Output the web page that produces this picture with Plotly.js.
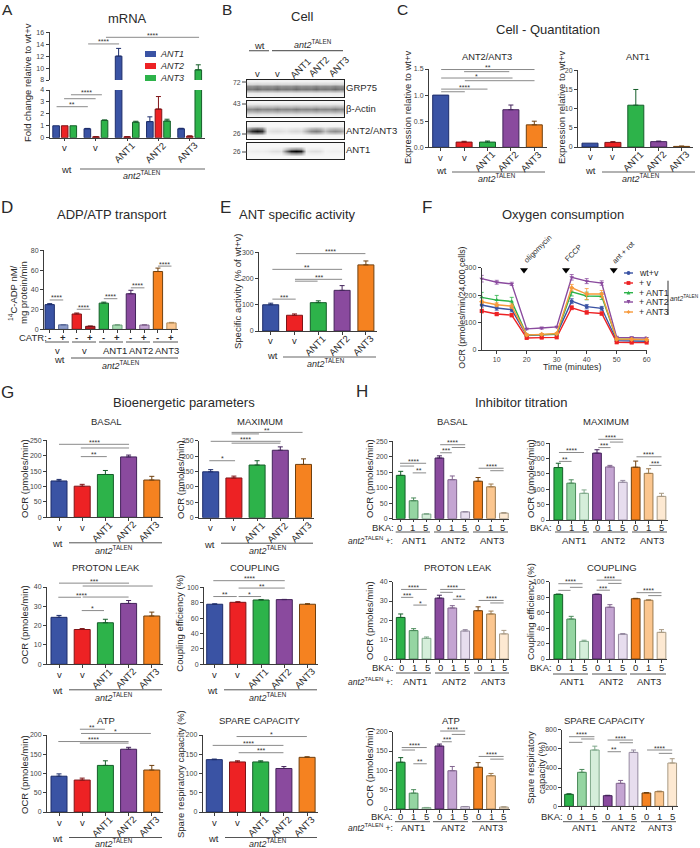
<!DOCTYPE html>
<html><head><meta charset="utf-8">
<script src="https://cdn.plot.ly/plotly-3.0.1.min.js"></script>
<style>html,body{margin:0;padding:0;background:#fff}</style></head>
<body><div id="chart" style="width:700px;height:848px"></div>
<script>
// ---------- DATA ----------
const aGroups=['v','v','ANT1','ANT2','ANT3'];
const aAnt1=[1,.75,12,1.35,.75], aAnt1Err=[0,.03,1.3,.4,.04];
const aAnt2=[1,.07,.07,2.4,.12], aAnt2Err=[0,.02,.02,1.05,.03];
const aAnt3=[1,1.45,1.3,1.4,9.7], aAnt3Err=[0,.04,.08,.15,.85];
const aSigLow=[[-.26,.74,2.6,'**'],[-.02,.99,3.27,''],[.2,1.19,3.6,'****']];
const aSigHigh=[[.75,1.74,14.05,'****'],[1.32,4.3,15.16,'****']];
const lanes=['v','v','ANT1','ANT2','ANT3'];
const grp75=[.55,.55,.55,.55,.55], actin=[.48,.48,.48,.48,.48], ant23=[.9,.1,.12,.48,.42], ant1Blot=[.04,.1,1,.1,.03];
const grpRows=[.05,.25,.8,1,.5,.1,.03], actinRows=[.03,.15,.6,1,.7,.2,.05], ant23Rows=[0,.05,.5,1,.55,.05,0], ant1Rows=[0,0,.4,1,.45,0,0];
const c1Vals=[1,.1,.1,.72,.43], c1Err=[0,.015,.02,.09,.07];
const c1Sig=[[.02,4.01,1.49,'**'],[1,2.93,1.449,''],[.02,3.07,1.327,'*'],[1.03,4.01,1.276,''],[.02,2,1.115,'****'],[.02,1.03,1.064,'']];
const c2Vals=[1,1.2,10.9,1.4,.15], c2Err=[0,.2,4.1,.15,.1];
const dVals=[25,4.5,15.5,3,26.5,4.3,36,4.3,58.5,6.5], dErr=[1,.2,1,.3,1,.3,3.5,.3,3.5,.5];
const dSign=['-','+','-','+','-','+','-','+','-','+'];
const dSig=[[0,1,29.7,'****'],[2,3,20.3,'****'],[4,5,31,'****'],[6,7,42,'****'],[8,9,64,'****']];
const eVals=[100,60,108,155,252], eErr=[6,5,7,18,15];
const eSig=[[.07,1.05,121.5,'***'],[1.02,1.97,190,''],[1.02,3,197,'***'],[.07,3,235,'**'],[1.06,3.98,295,'****']];
const fTime=[5,10,15,20,25,30,35,40,45,50,55,60];
const fWt=[164,153,147,53,55,57,178,158,152,34,33,32], fWtErr=[8,8,8,3,3,3,9,8,7,3,3,3];
const fV=[142,131,127,44,45,46,154,137,133,28,27,27], fVErr=[7,6,6,3,3,3,7,6,6,3,3,3];
const fAnt1=[192,182,177,55,56,58,212,197,196,40,39,38], fAnt1Err=[18,17,15,3,3,3,15,14,12,3,3,3];
const fAnt2=[260,247,241,77,80,84,265,251,244,46,45,44], fAnt2Err=[12,7,6,3,4,3,10,9,8,4,4,4];
const fAnt3=[176,165,160,55,57,60,227,204,204,40,39,38], fAnt3Err=[6,7,8,3,3,3,12,20,13,3,3,3];
const fArrowTime=[19.1,33.1,49], fArrowOcr=[292,292,292], fArrowText=['oligomycin','FCCP','ant + rot'];
const fLegend=['wt+v','+ v','+ ANT1','+ ANT2','+ ANT3'];
const gBasal=[118,101,139,196,121], gBasalErr=[5,6,13,6,12];
const gBasalSig=[[0,3.02,237,'****'],[.94,3.02,225,''],[.94,2.06,197,'**']];
const gMax=[149,129,171,219,173], gMaxErr=[7,6,14,11,18];
const gMaxSig=[[-.06,1.05,185,'*'],[.9,3,242,''],[0,3.02,248,'****'],[.9,2.08,272,''],[.9,3.96,277,'**']];
const gLeak=[24.3,18,21.5,31.5,25], gLeakErr=[1,.5,1.8,1.5,2];
const gLeakSig=[[0,3.02,42,'***'],[1.02,4.04,40.5,''],[-.03,.95,34.7,'****',.98],[1.02,3,34.8,''],[.98,1.94,27.8,'*']];
const gCoup=[78,80.5,83.5,84,78], gCoupErr=[.5,.8,.7,.3,.7];
const gCoupSig=[[-.06,3.02,108.6,'****'],[1.03,3.02,99,'**'],[-.06,.95,88,'**'],[1.03,2,88,'*']];
const gAtp=[93,83,121,163,109], gAtpErr=[6,5,12,5,12];
const gAtpSig=[[.9,1.98,215,'**'],[.95,3.96,204,'*'],[-.03,3,183,'****'],[.9,3,179,'']];
const gSpare=[136,130,130,113,142], gSpareErr=[1.5,3,3,5,1.5];
const gSpareSig=[[.96,3.99,196,'*'],[-.07,2.98,173,'****'],[1.05,2.98,154,'***']];
const bka=['0','1','5','0','1','5','0','1','5'], bkaGroups=['ANT1','ANT2','ANT3'];
const hBasal=[140,58,15,196,126,22,121,103,18], hBasalErr=[13,9,1,7,12,1,12,9,2];
const hBasalSig=[[-.05,1.97,179,'****'],[-.05,1.04,170,''],[.93,1.97,148,'**'],[3.06,5,239,'****'],[3.96,5,230,''],[3.06,3.96,213,'***'],[6.04,7.98,163,'****'],[6.94,7.98,155,'']];
const hMax=[171,120,87,218,173,123,172,152,77], hMaxErr=[14,11,11,11,5,6,20,15,10];
const hMaxSig=[[.05,1.99,220,'****'],[.05,1.03,191,'**'],[3.1,5.03,263,'****'],[4,5.03,254,''],[3.1,4.05,236,'***'],[6.06,8,206,'****'],[7.05,8,178,'***']];
const hLeak=[21.5,14.7,10.7,31.5,26.4,14.5,25,23.3,13], hLeakErr=[1.8,1,.7,1.5,1.2,.7,2,1.5,1.8];
const hLeakSig=[[.03,2.02,36,'****'],[.03,.98,31.9,'***'],[.98,2.02,27.9,'*'],[3.06,5,36,'****'],[3.06,4.04,34.5,''],[4.04,5,30.9,'**'],[6.04,7.98,30.3,'****'],[6.94,7.98,29,'']];
const hCoup=[83.5,51.7,22.8,83.6,67,32,78,76,34.5], hCoupErr=[.5,3.5,1.5,.3,3.3,1,.5,.5,3.5];
const hCoupSig=[[0,1.88,97.4,'****'],[0,.95,88.8,''],[.9,1.88,92.7,''],[2.97,4.9,102,'****'],[3.87,4.9,97.8,''],[2.97,4,89,'***'],[6.06,8,85.8,'****'],[6.97,8,82,'']];
const hAtp=[121,41,3.5,163,99,6,108,86,5], hAtpErr=[12,9,.5,5,11,.5,12,6,.8];
const hAtpSig=[[.08,2.02,159,'****'],[.08,1.11,152.6,''],[.98,2.02,117,'**'],[3.06,5,201.7,'****'],[3.96,5,193,''],[3.19,3.96,174,'***'],[6.04,7.98,136,'****'],[6.94,7.98,129,'']];
const hSpare=[125,355,588,111,240,563,139,153,452], hSpareErr=[6,30,40,4,30,25,5,5,45];
const hSpareSig=[[0,1.97,727,'****'],[.94,1.97,703,''],[0,1.04,668,''],[2.99,4.96,692,'****'],[3.92,4.96,664,''],[2.99,4.03,570,'**'],[6.05,8,588,'****'],[6.96,8,553,'']];
const t250=[0,50,100,150,200,250], t40=[0,10,20,30,40], t100=[0,20,40,60,80,100], t200=[0,50,100,150,200];

// ---------- STYLE ----------
const BLUE='#3A53A4',RED='#ED2224',GREEN='#2DB34A',PURPLE='#8A4A9E',ORANGE='#F58220';
const five=[BLUE,RED,GREEN,PURPLE,ORANGE], fiveL=['#1d2d6b','#7f1417','#155e2a','#43235a','#70400f'];
const nine=[GREEN,'#95D5A2','#D5EEDA',PURPLE,'#C4A5D2','#E7DDEE',ORANGE,'#FBC68F','#FDE9D2'];
const nineL=['#155e2a','#4a8a5a','#7fa88a','#43235a','#82658f','#958aa0','#70400f','#9c7a4e','#a89a84'];
const FONT='"Liberation Sans", Arial, sans-serif', INK='#2a2a2a', AX='#3c3c3c', SIG='#8a8a8a';
const TALEN='<i>ant2</i><sup>TALEN</sup>';
const W=700,H=848, X=p=>p/W, Y=p=>1-p/H;
const layout={width:W,height:H,margin:{l:0,r:0,t:0,b:0},barmode:'overlay',showlegend:false,hovermode:false,
  paper_bgcolor:'#fff',plot_bgcolor:'rgba(0,0,0,0)',font:{family:FONT,color:INK},annotations:[],shapes:[]};
const traces=[]; let n=0;

function text(px,py,s,size,o={}){layout.annotations.push(Object.assign({xref:'paper',yref:'paper',x:X(px),y:Y(py),text:s,showarrow:false,
  font:{size,family:FONT,color:o.color||INK},xanchor:o.a||'center',yanchor:'middle',textangle:o.angle||0,borderpad:0,borderwidth:0},o.extra||{}));}
function hline(x0,x1,y,c='#555',w=1){layout.shapes.push({type:'line',xref:'paper',yref:'paper',x0:X(x0),x1:X(x1),y0:Y(y),y1:Y(y),line:{color:c,width:w}});}
function vline(x,y0,y1,c='#333',w=1){layout.shapes.push({type:'line',xref:'paper',yref:'paper',x0:X(x),x1:X(x),y0:Y(y0),y1:Y(y1),line:{color:c,width:w}});}
function axes(x0,x1,top,base,xr,yr,tickvals,ticktext,xticks,xextra={},yextra={}){
  n++; const s=n===1?'':String(n);
  layout['xaxis'+s]=Object.assign({domain:[X(x0),X(x1)],range:xr,anchor:'y'+s,showgrid:false,zeroline:false,showline:true,linecolor:AX,linewidth:1,
    ticks:xticks?'outside':'',ticklen:2.5,tickwidth:1,tickcolor:AX,tickvals:xticks||[],showticklabels:false,fixedrange:true},xextra);
  layout['yaxis'+s]=Object.assign({domain:[Y(base),Y(top)],range:yr,anchor:'x'+s,showgrid:false,zeroline:false,showline:true,linecolor:AX,linewidth:1,
    ticks:'outside',ticklen:3,tickwidth:1,tickcolor:AX,tickvals,ticktext:ticktext||tickvals.map(String),tickfont:{size:7,color:'#444',family:FONT},fixedrange:true},yextra);
  return s;
}
function bar(s,x,v,e,c,l,w){traces.push({type:'bar',x:[x],y:[v],width:[w],xaxis:'x'+s,yaxis:'y'+s,marker:{color:c,line:{color:l,width:1}},
  error_y:{type:'data',symmetric:false,array:[e],arrayminus:[0],visible:e>0,color:l,thickness:1,width:2.5}});}
function sig(s,t,list){list.forEach(r=>{
  traces.push({type:'scatter',mode:'lines',x:[r[0],r[1]],y:[r[2],r[2]],xaxis:'x'+s,yaxis:'y'+t,cliponaxis:false,line:{color:SIG,width:1}});
  if(r[3]) layout.annotations.push({xref:'x'+s,yref:'y'+t,x:r[4]!==undefined?r[4]:(r[0]+r[1])/2,y:r[2],text:r[3],showarrow:false,yanchor:'middle',yshift:2,borderpad:0,font:{size:7,family:FONT,color:'#333'}});
});}
// Hidden y axis with the same scale as the panel but a taller domain, so brackets above the last tick are kept.
function sigAxis(s,top,base,ymax,extra=30){
  n++; const t=String(n);
  layout['yaxis'+t]={domain:[Y(base),Y(top-extra)],range:[0,ymax*(base-top+extra)/(base-top)],anchor:'x'+s,visible:false,fixedrange:true};
  return t;
}
function barPanel(p){
  const xr=[(p.x0-p.c0)/p.dx,(p.x1-p.c0)/p.dx];
  const idx=p.vals.map((_,i)=>i);
  const s=axes(p.x0,p.x1,p.top,p.base,xr,[0,p.ymax],p.ticks,p.tickText,idx);
  p.vals.forEach((v,i)=>bar(s,i,v,p.errs[i],p.colors[i],p.lines[i],p.bw/p.dx));
  if(p.sig) sig(s,sigAxis(s,p.top,p.base,p.ymax),p.sig);
  return s;
}
function catLabels(s,labels,base){labels.forEach((t,i)=>{const up=t==='v';
  layout.annotations.push({xref:'x'+s,yref:'paper',x:i,y:Y(base+(up?10:14.5)),xshift:up?0:-3,text:t,showarrow:false,textangle:up?0:-45,yanchor:'middle',borderpad:0,font:{size:9.5,family:FONT,color:INK}});});}
function wtRow(base,wtx,l0,l1,antx,off=0){text(wtx,base+26.5+off,'wt',9.5);hline(l0,l1,base+25.5+off);text(antx,Math.min(base+32.5+off,842.5),TALEN,9);}
function bkaRow(s,rightX,bkaX,y,lines,lineY,groupX,groupY,dxLab,talenLabel){
  text(bkaX,y,'BKA:',9.5);
  bka.forEach((t,i)=>layout.annotations.push({xref:'x'+s,yref:'paper',x:i,y:Y(y),xshift:dxLab,text:t,showarrow:false,yanchor:'middle',borderpad:0,font:{size:9.5,family:FONT,color:INK}}));
  lines.forEach(l=>hline(l[0],l[1],lineY));
  bkaGroups.forEach((t,i)=>text(groupX[i],groupY,t,9.5));
  if(talenLabel) text(rightX,groupY,TALEN+' +:',8.5,{a:'right'});
}
function ylabel(x,y,t,size=9.5){text(x,y,t,size,{angle:-90});}
function glyph(kind,cx,cy,r,col){
  const P=(a,b)=>X(cx+a)+' '+Y(cy+b);
  if(kind==='circle'||kind==='square'){layout.shapes.push({type:kind==='circle'?'circle':'rect',xref:'paper',yref:'paper',x0:X(cx-r),x1:X(cx+r),y0:Y(cy-r),y1:Y(cy+r),fillcolor:col,line:{width:0}});return;}
  const pts=kind==='triangle-up'?[[-r,r],[r,r],[0,-r]]:kind==='triangle-down'?[[-r,-r],[r,-r],[0,r]]:[[-r,0],[0,-r],[r,0],[0,r]];
  layout.shapes.push({type:'path',xref:'paper',yref:'paper',path:'M '+pts.map(p=>P(p[0],p[1])).join(' L ')+' Z',fillcolor:col,line:{width:0}});
}

// ---------- TITLES / LETTERS ----------
[['A',7,9.5],['B',227,9.5],['C',402,9.5],['D',7,208],['E',225,208],['F',427,208],['G',7,392],['H',362,391]].forEach(r=>text(r[1],r[2],r[0],r[2]<20?15.5:17));
[['mRNA',127,18],['Cell',302,17],['Cell - Quantitation',548,30],['ADP/ATP transport',112,214],['ANT specific activity',297,214],['Oxygen consumption',563,214],['Bioenergetic parameters',184,402],['Inhibitor titration',521,402]].forEach(r=>text(r[1],r[2],r[0],13));

// ---------- A ----------
{const x0=49.5,x1=205,c0=64.7,dx=31.25,xr=[(x0-c0)/dx,(x1-c0)/dx],w=6.6/dx,off=[-.275,0,.275];
 const lo=axes(x0,x1,90,137.7,xr,[0,4],[0,1,2,3,4],null,[0,1,2,3,4]);
 const hi=axes(x0,x1,32.3,80,xr,[8,16],[8,10,12,14,16],null,null,{showline:false,visible:false});
 [[aAnt1,aAnt1Err,BLUE,'#1d2d6b'],[aAnt2,aAnt2Err,RED,'#7f1417'],[aAnt3,aAnt3Err,GREEN,'#155e2a']].forEach((d,k)=>{
   d[0].forEach((v,i)=>{bar(lo,i+off[k],v,v<4?d[1][i]:0,d[2],d[3],w); if(v>8) bar(hi,i+off[k],v,d[1][i],d[2],d[3],w);});
 });
 sig(lo,lo,aSigLow); sig(hi,hi,aSigHigh);
 catLabels(lo,aGroups,137.7);
 ylabel(28,83,'Fold change relative to wt+v');
 text(66,169,'wt',9.5); hline(80,205,169,'#666',1.2); text(142,175.5,TALEN,9);
 [['ANT1',BLUE,54],['ANT2',RED,66],['ANT3',GREEN,78]].forEach(r=>{
   layout.shapes.push({type:'rect',xref:'paper',yref:'paper',x0:X(145),x1:X(156),y0:Y(r[2]-3),y1:Y(r[2]+3),fillcolor:r[1],line:{width:0}});
   text(160,r[2],'<i>'+r[0]+'</i>',9,{a:'left'});
 });
}
// ---------- B (blots) ----------
{const lane0=257,dl=19.5,xr=[(247-lane0)/dl,(344-lane0)/dl];
 const cols=[];for(let c=-0.75;c<=4.75;c+=.25)cols.push(c);
 [[grp75,grpRows,80,97,.92,'GRP75',88,72,82],[actin,actinRows,101,117,.92,'β-Actin',109,43,104],[ant23,ant23Rows,122,139,.55,'ANT2/ANT3',130,26,134],[ant1Blot,ant1Rows,143,159,.5,'ANT1',150,26,152]].forEach(b=>{
   const s=axes(247,344,b[2],b[3],xr,[6.5,-.5],[],[],null,{mirror:true,linecolor:'#222',range:xr},{mirror:true,linecolor:'#222',ticks:'',showticklabels:false});
   const z=b[1].map(r=>cols.map(c=>{const l=Math.max(0,Math.min(4,Math.round(c)));const d=Math.abs(c-l);const f=d<.1?1:(d<.3?.88:b[4]);return Math.min(1,.03+r*b[0][l]*f);}));
   traces.push({type:'heatmap',x:cols,y:[0,1,2,3,4,5,6],z,xaxis:'x'+s,yaxis:'y'+s,zmin:0,zmax:1,zsmooth:'best',showscale:false,colorscale:[[0,'#ffffff'],[1,'#000000']]});
   text(345.5,b[6],b[5],9.5,{a:'left'});
   text(237,b[8],String(b[7]),6.8,{color:'#444'});
   hline(242,247,b[8],'#444');
 });
 text(259,45,'wt',9.5); hline(249,269,50.7,'#666',1.2);
 text(313,44,TALEN,9); hline(272,343,50.7,'#666',1.2);
 text(257,73,lanes[0],9.5);text(277,73,lanes[1],9.5);
 text(300,68,lanes[2],9.5,{angle:-45});text(319,67,lanes[3],9.5,{angle:-45});text(339,67,lanes[4],9.5,{angle:-45});
}
// ---------- C ----------
{const s=barPanel({x0:429,x1:546.7,top:69,base:147.3,c0:440.7,dx:23.4,bw:16,ymax:1.5,ticks:[0,.5,1,1.5],tickText:['0.0','0.5','1.0','1.5'],vals:c1Vals,errs:c1Err,colors:five,lines:fiveL,sig:c1Sig});
 catLabels(s,aGroups,147.3); text(487,57,'ANT2/ANT3',9.3); ylabel(408,107,'Expression relative to wt+v');
 text(441,170,'wt',9.5);hline(452,545,172,'#666',1.2);text(497,178,TALEN,9);
 const s2=barPanel({x0:578,x1:693,top:70.3,base:147,c0:590,dx:22.9,bw:16,ymax:20,ticks:[0,5,10,15,20],vals:c2Vals,errs:c2Err,colors:five,lines:fiveL});
 catLabels(s2,aGroups,147); text(638,57,'ANT1',9.3); ylabel(562,107,'Expression relative to wt+v');
 text(590.7,170,'wt',9.5);hline(602,695,172,'#666',1.2);text(641,178,TALEN,9);
}
// ---------- D ----------
{const s=barPanel({x0:44,x1:178,top:250.3,base:329.3,c0:49.7,dx:13.53,bw:9.3,ymax:80,ticks:[0,20,40,60,80],vals:dVals,errs:dErr,
   colors:[BLUE,'#8C9CC9',RED,'#B81D24',GREEN,'#A5DBB0',PURPLE,'#C4A5D2',ORANGE,'#FBC68F'],lines:['#1d2d6b','#5a6a98','#7f1417','#6e1216','#155e2a','#6fa07c','#43235a','#82658f','#70400f','#b08a58'],sig:dSig});
 text(13,293,'<sup>14</sup>C-ADP nM/',9.5,{angle:-90}); text(24,293,'mg protein/min',9.5,{angle:-90});
 text(33,337,'CATR:',9.5);
 dSign.forEach((t,i)=>layout.annotations.push({xref:'x'+s,yref:'paper',x:i,y:Y(337),text:'<b>'+t+'</b>',showarrow:false,yanchor:'middle',borderpad:0,font:{size:9.5,family:FONT,color:INK}}));
 [[45,69],[72,96],[99,123],[126,150],[153,178]].forEach(l=>hline(l[0],l[1],342));
 [['v',57],['v',84],['ANT1',115],['ANT2',141],['ANT3',167]].forEach(r=>text(r[1],350.5,r[0],9.5));
 text(59,359.5,'wt',9.5); hline(71,178,358); text(121,364.5,TALEN,9);
}
// ---------- E ----------
{const s=barPanel({x0:259,x1:377,top:252.3,base:331,c0:270.7,dx:23.8,bw:16,ymax:300,ticks:[0,100,200,300],vals:eVals,errs:eErr,colors:five,lines:fiveL,sig:eSig});
 catLabels(s,aGroups,331); ylabel(237,292,'Specific activity (% of wt+v)');
 text(272,356,'wt',9.5);hline(283,376,357,'#666',1.2);text(326,363,TALEN,9);
}
// ---------- F ----------
{const s=axes(481.7,646.7,267.7,350,[5,60],[0,300],[0,100,200,300],null,[10,20,30,40,50,60],{ticktext:['10','20','30','40','50','60'],showticklabels:true,tickfont:{size:7,color:'#444',family:FONT},ticklen:2.5});
 const fS=[[fWt,fWtErr,BLUE,'circle'],[fV,fVErr,RED,'square'],[fAnt1,fAnt1Err,GREEN,'triangle-up'],[fAnt2,fAnt2Err,PURPLE,'triangle-down'],[fAnt3,fAnt3Err,'#F79A3C','diamond']];
 fS.forEach(d=>traces.push({type:'scatter',mode:'lines+markers',x:fTime,y:d[0],xaxis:'x'+s,yaxis:'y'+s,cliponaxis:false,line:{color:d[2],width:1.4},
   marker:{color:d[2],size:4,symbol:d[3]},error_y:{type:'data',array:d[1],color:d[2],thickness:.8,width:2}}));
 traces.push({type:'scatter',mode:'markers',x:fArrowTime,y:fArrowOcr,xaxis:'x'+s,yaxis:'y'+s,cliponaxis:false,marker:{color:'#000',symbol:'triangle-down',size:7}});
 [[537,249],[572.7,253],[623,252]].forEach((p,i)=>text(p[0],p[1],fArrowText[i],7.5,{angle:-45}));
 ylabel(461.7,308,'OCR (pmoles/min/24,000 cells)',8.8); text(571.7,367,'Time (minutes)',8.8);
 [273,283,292.7,302,312].forEach((y,i)=>{
   hline(624,633,y,fS[i][2],1.4);
   glyph(fS[i][3],628.5,y,1.9,fS[i][2]);
   text(638.5,y,fLegend[i],8.8,{a:'left'});
 });
 vline(668,280.7,315);
 text(670,297.7,TALEN,6.8,{a:'left'});
}
// ---------- G ----------
[
 {x0:47,x1:163,c0:59,base:517.3,top:440.3,ymax:250,ticks:t250,vals:gBasal,errs:gBasalErr,sig:gBasalSig,title:'BASAL',tx:106,ty:421,lab:'OCR (pmoles/min)',lx:24,ly:479,wt:58,l0:69,l1:162,ant:114},
 {x0:199,x1:314,c0:210.7,base:517.7,top:440.7,ymax:250,ticks:t250,vals:gMax,errs:gMaxErr,sig:gMaxSig,title:'MAXIMUM',tx:260,ty:421,lab:'OCR (pmoles/min)',lx:180,ly:479,wt:209,l0:221,l1:313,ant:268},
 {x0:47,x1:163,c0:59,base:664.3,top:587,ymax:40,ticks:t40,vals:gLeak,errs:gLeakErr,sig:gLeakSig,title:'PROTON LEAK',tx:106,ty:567,lab:'OCR (pmoles/min)',lx:24,ly:625,wt:58,l0:69,l1:162,ant:114},
 {x0:204,x1:318,c0:214.7,base:664.3,top:587.3,ymax:100,ticks:t100,vals:gCoup,errs:gCoupErr,sig:gCoupSig,title:'COUPLING',tx:255,ty:567,lab:'Coupling efficiency (%)',lx:180,ly:622.7,wt:212,l0:224,l1:317,ant:268},
 {x0:47,x1:163,c0:59,base:812,top:735,ymax:200,ticks:t200,vals:gAtp,errs:gAtpErr,sig:gAtpSig,title:'ATP',tx:106,ty:720,lab:'OCR (pmoles/min)',lx:24,ly:775,wt:58,l0:69,l1:162,ant:114},
 {x0:202.7,x1:318,c0:214.3,base:812,top:735,ymax:200,ticks:t200,vals:gSpare,errs:gSpareErr,sig:gSpareSig,title:'SPARE CAPACITY',tx:260,ty:720,lab:'Spare respiratory capacity (%)',lx:180,ly:774,wt:213,l0:225,l1:317,ant:268}
].forEach(p=>{
 const s=barPanel(Object.assign({dx:23.2,bw:16,colors:five,lines:fiveL},p));
 catLabels(s,aGroups,p.base); text(p.tx,p.ty,p.title,9.5); ylabel(p.lx,p.ly,p.lab);
 wtRow(p.base,p.wt,p.l0,p.l1,p.ant);
});
// ---------- H ----------
[
 {x0:393,x1:509,c0:400.7,base:518.7,top:441.3,ymax:250,ticks:t250,vals:hBasal,errs:hBasalErr,sig:hBasalSig,title:'BASAL',tx:452.7,ty:421,lab:'OCR (pmoles/min)',lx:369,ly:479,bx:383,by:527.5,rx:393,ln:[[395.7,430],[434,469],[473,508]],ly2:532,gx:[414,453,492],gy:540,d:-1,tal:true},
 {x0:550,x1:667.7,c0:558.3,base:520,top:443.3,ymax:250,ticks:t250,vals:hMax,errs:hMaxErr,sig:hMaxSig,title:'MAXIMUM',tx:606,ty:421,lab:'OCR (pmoles/min)',lx:530,ly:479,bx:540.7,by:527.5,rx:551,ln:[[555,589],[593,628],[632,667]],ly2:532,gx:[574,613,651.7],gy:540,d:0},
 {x0:393,x1:509,c0:400.7,base:659,top:581.7,ymax:40,ticks:t40,vals:hLeak,errs:hLeakErr,sig:hLeakSig,title:'PROTON LEAK',tx:457.7,ty:567,lab:'OCR (pmoles/min)',lx:369,ly:621,bx:383,by:667,rx:393,ln:[[396,431],[435,470],[474,509]],ly2:673,gx:[415,454,493],gy:681,d:1,tal:true},
 {x0:550,x1:667,c0:558.3,base:659,top:581.7,ymax:100,ticks:t100,vals:hCoup,errs:hCoupErr,sig:hCoupSig,title:'COUPLING',tx:611.7,ty:567,lab:'Coupling efficiency (%)',lx:530,ly:612,bx:540.7,by:667,rx:551,ln:[[553,588],[592,627],[630,666]],ly2:674,gx:[571.7,610.7,649],gy:681,d:0},
 {x0:393,x1:510,c0:400.7,base:809,top:731.7,ymax:200,ticks:t200,vals:hAtp,errs:hAtpErr,sig:hAtpSig,title:'ATP',tx:451,ty:720,lab:'OCR (pmoles/min)',lx:369,ly:767,bx:382,by:816,rx:393,ln:[[395,430],[433,468],[472,507]],ly2:821.7,gx:[413,452.7,491],gy:827.5,d:0,tal:true},
 {x0:562.3,x1:678.3,c0:569,base:806.3,top:729.7,ymax:800,ticks:[0,200,400,600,800],vals:hSpare,errs:hSpareErr,sig:hSpareSig,title:'SPARE CAPACITY',tx:605,ty:720,bx:551.7,by:816.7,rx:561.7,ln:[[563,598],[602,637],[641,676]],ly2:821.7,gx:[584,623,660],gy:827.5,d:0}
].forEach(p=>{
 const s=barPanel(Object.assign({dx:12.9,bw:8.7,colors:nine,lines:nineL},p));
 text(p.tx,p.ty,p.title,9.5);
 if(p.lab) ylabel(p.lx,p.ly,p.lab);
 bkaRow(s,p.rx,p.bx,p.by,p.ln,p.ly2,p.gx,p.gy,p.d,p.tal);
});
ylabel(530,768,'Spare respiratory'); ylabel(541,768,'capacity (%)');

Plotly.newPlot('chart',traces,layout,{displayModeBar:false,staticPlot:true});
</script></body></html>
